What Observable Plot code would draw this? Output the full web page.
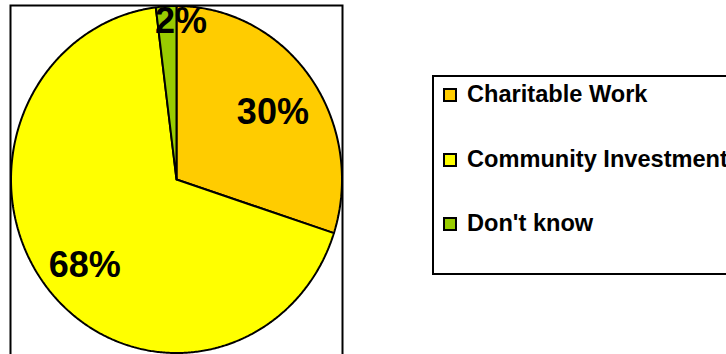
<!DOCTYPE html>
<html>
<head>
<meta charset="utf-8">
<script src="https://cdn.jsdelivr.net/npm/d3@7"></script>
<script src="https://cdn.jsdelivr.net/npm/@observablehq/plot@0.6"></script>
<style>
  html, body { margin: 0; padding: 0; background: #fff; overflow: hidden; }
  #wrap { position: relative; width: 726px; height: 354px; overflow: hidden; }
  #wrap svg { position: absolute; left: 0; top: 0; }
  .legend { position: absolute; left: 432px; top: 75px; width: 320px; height: 200px;
    box-sizing: border-box; border: 2px solid #000; background: #fff;
    font-family: "Liberation Sans", Arial, sans-serif; font-weight: bold; font-size: 23.6px; color: #000; }
  .legend .sw { position: absolute; left: 9px; width: 14px; height: 14px; box-sizing: border-box; border: 2px solid #000; }
  .legend .lb { position: absolute; left: 33px; line-height: 23px; white-space: nowrap; }
</style>
</head>
<body>
<div id="wrap"></div>
<script>
const categories = ["Charitable Work", "Community Investment", "Don't know"];
const values = [30, 68, 2];
const colors = ["#FFCC00", "#FFFF00", "#99CC00"];
const labels = ["30%", "68%", "2%"];

const total = d3.sum(values);
let acc = 0;
const slices = values.map((v, i) => {
  const a0 = acc / total * 2 * Math.PI;
  acc += v;
  const a1 = acc / total * 2 * Math.PI;
  const n = Math.max(2, Math.ceil((a1 - a0) / (Math.PI / 360)));
  const pts = [{x: 0, y: 0}];
  for (let k = 0; k <= n; k++) {
    const a = a0 + (a1 - a0) * k / n;
    pts.push({x: Math.sin(a), y: Math.cos(a)});
  }
  pts.push({x: 0, y: 0});
  const mid = (a0 + a1) / 2;
  const small = v / total < 0.05;
  const r = small ? 0.91 : 0.72;
  return {name: categories[i], color: colors[i], pts, label: labels[i], small,
          lx: r * Math.sin(mid), ly: r * Math.cos(mid)};
});

const font = "Liberation Sans, Arial, sans-serif";
const chart = Plot.plot({
  width: 726,
  height: 354,
  marginLeft: 10,
  marginRight: 384,
  marginTop: 5,
  marginBottom: -4,
  x: {domain: [-1, 1], range: [10.5, 341.5], axis: null},
  y: {domain: [-1, 1], range: [352.5, 5.5], axis: null},
  marks: [
    Plot.frame({stroke: "#000", strokeWidth: 2}),
    ...slices.map(s => Plot.line(s.pts, {x: "x", y: "y", fill: s.color, stroke: "#000", strokeWidth: 2, strokeLinejoin: "miter"})),
    Plot.text(slices.filter(s => !s.small), {x: "lx", y: "ly", text: "label", dy: 6,
      fontSize: 36, fontWeight: "bold", fontFamily: font, fill: "#000"}),
    Plot.text(slices.filter(s => s.small), {x: "lx", y: "ly", text: "label", dx: 14,
      fontSize: 36, fontWeight: "bold", fontFamily: font, fill: "#000"})
  ]
});
const wrap = document.getElementById("wrap");
wrap.appendChild(chart);

const legend = document.createElement("div");
legend.className = "legend";
slices.forEach((s, i) => {
  const sw = document.createElement("div");
  sw.className = "sw";
  sw.style.top = (11 + i * 64.5) + "px";
  sw.style.background = s.color;
  const lb = document.createElement("div");
  lb.className = "lb";
  lb.style.top = (6 + i * 64.5) + "px";
  lb.textContent = s.name;
  legend.appendChild(sw);
  legend.appendChild(lb);
});
wrap.appendChild(legend);
</script>
</body>
</html>
